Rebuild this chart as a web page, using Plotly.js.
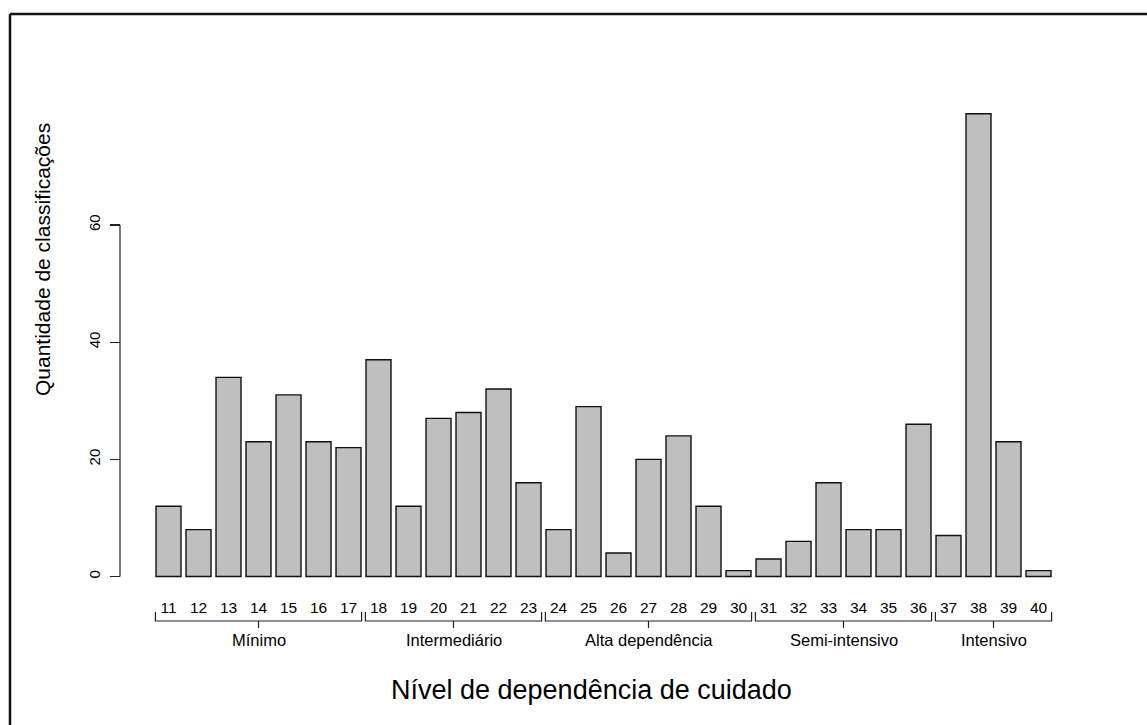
<!DOCTYPE html>
<html>
<head>
<meta charset="utf-8">
<script src="https://cdn.plot.ly/plotly-3.0.1.min.js"></script>
<style>html,body{margin:0;padding:0;background:#fff;}#chart{width:1147px;height:725px;}</style>
</head>
<body>
<div id="chart"></div>
<script>
// ---- data ----
const scores = ["11","12","13","14","15","16","17","18","19","20","21","22","23","24","25","26","27","28","29","30","31","32","33","34","35","36","37","38","39","40"];
const counts = [12,8,34,23,31,23,22,37,12,27,28,32,16,8,29,4,20,24,12,1,3,6,16,8,8,26,7,79,23,1];
const groupNames = ["Mínimo","Intermediário","Alta dependência","Semi-intensivo","Intensivo"];
const groupFirst = ["11","18","24","31","37"];
const groupLast  = ["17","23","30","36","40"];
const yTicks = [0,20,40,60];
const xTitle = "Nível de dependência de cuidado";
const yTitle = "Quantidade de classificações";

// ---- geometry (pixels) ----
const W = 1147, H = 725;
const pxPerCat = 30, firstCenterPx = 168.5;
const zeroPx = 576.5, pxPerUnit = 5.858;
const xr0 = -firstCenterPx / pxPerCat, xr1 = xr0 + W / pxPerCat;
const yr1 = zeroPx / pxPerUnit, yr0 = yr1 - H / pxPerUnit;
const yAt = px => (zeroPx - px) / pxPerUnit;   // pixel row -> data y
const idx = s => scores.indexOf(s);
const xs = scores.map((s, i) => i);

const shapes = [];
const annotations = [];
const half = 12.5 / pxPerCat + 0.02;
groupNames.forEach((g, k) => {
  const a = idx(groupFirst[k]) - half, b = idx(groupLast[k]) + half;
  const mid = (idx(groupFirst[k]) + idx(groupLast[k])) / 2;
  const yTop = yAt(612), yBase = yAt(621), yTick = yAt(628);
  shapes.push({type:'path', xref:'x', yref:'y',
    path:`M ${a},${yTop} L ${a},${yBase} L ${b},${yBase} L ${b},${yTop}`,
    line:{color:'#222', width:1.2}});
  shapes.push({type:'line', xref:'x', yref:'y', x0:mid, x1:mid, y0:yBase, y1:yTick,
    line:{color:'#222', width:1.2}});
  annotations.push({xref:'x', yref:'y', x:mid, y:yAt(640), text:g, showarrow:false,
    font:{family:'Liberation Sans, Arial, sans-serif', size:16.5, color:'#000'},
    xanchor:'center', yanchor:'middle'});
});
// y axis line (R style: spans only ticks)
shapes.push({type:'line', xref:'paper', yref:'y', x0:120/W, x1:120/W,
  y0:yTicks[0], y1:yTicks[yTicks.length-1], line:{color:'#222', width:1.2}});
// frame (top and left visible)
shapes.push({type:'line', xref:'paper', yref:'paper', x0:10/W, x1:1, y0:1-14/H, y1:1-14/H, line:{color:'#111', width:2.5}});
shapes.push({type:'line', xref:'paper', yref:'paper', x0:10/W, x1:10/W, y0:0, y1:1-14/H, line:{color:'#111', width:2.5}});

annotations.push({xref:'paper', yref:'paper', x:591/W, y:1-690/H, text:xTitle, showarrow:false,
  font:{family:'Liberation Sans, Arial, sans-serif', size:27, color:'#000'}, xanchor:'center', yanchor:'middle'});
annotations.push({xref:'paper', yref:'paper', x:42/W, y:1-260/H, text:yTitle, showarrow:false, textangle:-90,
  font:{family:'Liberation Sans, Arial, sans-serif', size:21, color:'#000'}, xanchor:'center', yanchor:'middle'});

const trace = {
  type:'bar', x:xs, y:counts,
  marker:{color:'#bfbfbf', line:{color:'#111', width:1.4}},
  hoverinfo:'skip'
};

const layout = {
  width:W, height:H,
  margin:{l:0, r:0, t:0, b:0},
  paper_bgcolor:'#fff', plot_bgcolor:'#fff',
  showlegend:false,
  bargap:1/6,
  font:{family:'Liberation Sans, Arial, sans-serif', color:'#000'},
  xaxis:{range:[xr0, xr1], tickmode:'array', tickvals:xs, ticktext:scores,
    showgrid:false, zeroline:false, showline:false, ticks:'',
    anchor:'free', position:1 - zeroPx/H, ticklabelstandoff:20,
    tickfont:{size:15.5, color:'#000'}},
  yaxis:{range:[yr0, yr1], tickmode:'array', tickvals:yTicks, ticktext:yTicks.map(String),
    showgrid:false, zeroline:false, showline:false,
    ticks:'outside', ticklen:10, tickwidth:1.2, tickcolor:'#222',
    anchor:'free', position:120/W, tickangle:-90, ticklabelstandoff:4,
    tickfont:{size:15, color:'#000'}},
  shapes:shapes, annotations:annotations
};

Plotly.newPlot('chart', [trace], layout, {displayModeBar:false, staticPlot:true});
</script>
</body>
</html>
